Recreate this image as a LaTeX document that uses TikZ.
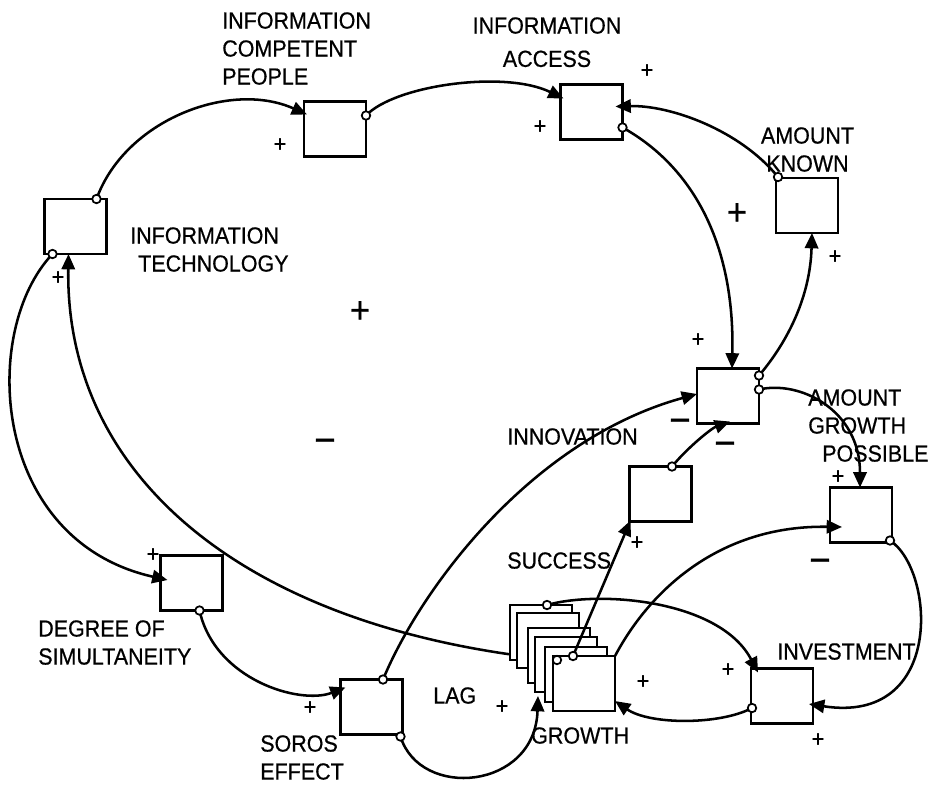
\documentclass[tikz,border=0pt]{standalone}
\usepackage{fontspec}
\setmainfont{Liberation Sans}[FakeStretch=0.92,FakeBold=0.6]
\usetikzlibrary{arrows.meta}
\begin{document}
\begin{tikzpicture}[x=0.75pt,y=-0.75pt,
  gbox/.style={draw,line width=2.2pt,fill=white,minimum width=46.5pt,minimum height=41.25pt,inner sep=0pt,outer sep=0pt},
  link/.style={line width=1.9pt,-{Triangle[length=11.5pt,width=10pt]}},
  portc/.style={line width=1.3pt,fill=white},
  lbl/.style={font=\fontsize{17.5}{21}\selectfont,inner sep=0pt,align=left,anchor=north west},
  sgn/.style={font=\fontsize{17.5}{21}\selectfont,inner sep=0pt},
  bigsgn/.style={font=\fontsize{28}{28}\selectfont,inner sep=0pt},
  msgn/.style={font=\fontsize{30}{30}\selectfont,inner sep=0pt,anchor=base}]
\useasboundingbox (0,0) rectangle (937,786);
\fill[white] (0,0) rectangle (937,786);

% growth stack (first the curve that runs behind it)
\node[gbox,draw=none,fill=none] (ga) at (541,632.5) {};
\coordinate (p10) at ([shift={(47,0)}]ga.south west);
\node[gbox,draw=none,fill=none] (it) at (75.5,226.5) {};
\coordinate (q10) at ([shift={(-7,0)}]it.south);
\draw[link] (p10) .. controls (250,630) and (65,480) .. (q10);

\node[gbox] (ga) at (541,632.5) {};
\node[gbox] (gb) at (548,640.5) {};
\node[gbox] (gc) at (559,655.5) {};
\node[gbox] (gd) at (566,664.5) {};
\node[gbox] (ge) at (576,674.5) {};
\node[gbox] (gf) at (584,683.5) {};

% boxes
\node[gbox] (it) at (75.5,226.5) {};
\node[gbox] (icp) at (335,129) {};
\node[gbox] (ia) at (591.5,112) {};
\node[gbox] (ak) at (807,205.5) {};
\node[gbox] (inn) at (728,396) {};
\node[gbox] (suc) at (660.5,494) {};
\node[gbox] (agp) at (861,515) {};
\node[gbox] (dos) at (191.5,583) {};
\node[gbox] (sor) at (371.5,707) {};
\node[gbox] (inv) at (782,696) {};

% ports
\coordinate (p1) at ([shift={(-10,0)}]it.north east);
\coordinate (q1) at ([shift={(3,13)}]icp.north west);
\coordinate (p2) at ([shift={(0,14)}]icp.north east);
\coordinate (q2) at ([shift={(3,14)}]ia.north west);
\coordinate (p3) at ([shift={(2,-1)}]ak.north west);
\coordinate (q3) at ([shift={(-7,22)}]ia.north east);
\coordinate (p4) at ([shift={(0,43)}]ia.north east);
\coordinate (q4) at ([shift={(4,0)}]inn.north);
\coordinate (p5) at ([shift={(0,7)}]inn.north east);
\coordinate (q5) at ([shift={(5,0)}]ak.south);
\coordinate (p6) at ([shift={(0,21)}]inn.north east);
\coordinate (q6) at ([shift={(-1,0)}]agp.north);
\coordinate (p7) at ([shift={(11.5,0)}]suc.north);
\coordinate (q7) at ([shift={(2,-2)}]inn.south);
\coordinate (p8) at ([shift={(11.5,0)}]sor.north);
\coordinate (q8) at ([shift={(0,-2)}]inn.west);
\coordinate (p9) at ([shift={(-11,0)}]gf.north);
\coordinate (q9) at ([shift={(1,-1)}]suc.south west);
\coordinate (p11) at ([shift={(8,0)}]it.south west);
\coordinate (q11) at ([shift={(7,-3)}]dos.west);
\coordinate (p12) at ([shift={(8,0)}]dos.south);
\coordinate (q12) at ([shift={(5,8)}]sor.north west);
\coordinate (p13) at ([shift={(-2,2)}]sor.south east);
\coordinate (q13) at ([shift={(-15,-15)}]gf.south west);
\coordinate (p14) at ([shift={(37,0)}]ga.north west);
\coordinate (q14) at ([shift={(7,4)}]inv.north west);
\coordinate (p15) at ([shift={(1,12)}]inv.west);
\coordinate (q15) at ([shift={(0,-10)}]gf.south east);
\coordinate (p16) at ([shift={(-2,-2)}]agp.south east);
\coordinate (q16) at ([shift={(-4,8)}]inv.east);
\coordinate (p17) at (gf.north east);
\coordinate (q17) at ([shift={(12,12)}]agp.west);

% connectors
\draw[link] (p1) .. controls (125,120) and (230,80) .. (q1);
\draw[link] (p2) .. controls (395,85) and (505,70) .. (q2);
\draw[link] (p3) .. controls (740,130) and (670,105) .. (q3);
\draw[link] (p4) .. controls (690,165) and (735,240) .. (q4);
\draw[link] (p5) .. controls (785,345) and (810,300) .. (q5);
\draw[link] (p6) .. controls (800,380) and (860,410) .. (q6);
\draw[link] (p7) .. controls (688,447) and (712,428) .. (q7);
\draw[link] (p8) .. controls (420,590) and (530,440) .. (q8);
\draw[link] (p9) -- (q9);
\draw[link] (p11) .. controls (-20,330) and (-10,540) .. (q11);
\draw[link] (p12) .. controls (215,680) and (300,705) .. (q12);
\draw[link] (p13) .. controls (420,800) and (535,790) .. (q13);
\draw[link] (p14) .. controls (600,590) and (720,600) .. (q14);
\draw[link] (p15) .. controls (720,725) and (650,725) .. (q15);
\draw[link] (p16) .. controls (935,570) and (945,725) .. (q16);
\draw[link] (p17) .. controls (650,590) and (720,525) .. (q17);

% source circles
\foreach \p in {p1,p2,p3,p4,p5,p6,p7,p8,p9,p10,p11,p12,p13,p14,p15,p16}
  \draw[portc] (\p) circle[radius=3.2pt];

% labels
\node[lbl] (lICP) at (222,12) {INFORMATION\\COMPETENT\\PEOPLE};
\node[lbl,align=center,anchor=north] (lIA) at (547,17) {INFORMATION\\[4pt]ACCESS};
\node[lbl,align=center,anchor=north] (lAK) at (807.5,127) {AMOUNT\\KNOWN};
\node[lbl] (lIT) at (130,227) {INFORMATION\\\hspace*{6pt}TECHNOLOGY};
\node[lbl] (lINN) at (507,428) {INNOVATION};
\node[lbl] (lAGP) at (808,389) {AMOUNT\\GROWTH\\\hspace*{10.5pt}POSSIBLE};
\node[lbl] (lSUC) at (507,552) {SUCCESS};
\node[lbl] (lDOS) at (38,620) {DEGREE OF\\SIMULTANEITY};
\node[lbl] (lLAG) at (433,687) {LAG};
\node[lbl] (lGR) at (531,727) {GROWTH};
\node[lbl] (lINV) at (777,643) {INVESTMENT};
\node[lbl] (lSOR) at (260,735) {SOROS\\EFFECT};

% polarity signs
\foreach \x/\y [count=\i] in {280/145,540/127,647/71,835/257,698/340,58/278,153/555,310/708,502/707,637/543,838/477,643/682,728/670,818/740}
  \node[sgn] (s\i) at (\x,\y) {+};
\node[bigsgn] (b1) at (737,214) {+};
\node[bigsgn] (b2) at (360,312) {+};
\foreach \x/\y [count=\i] in {325/442,680/422,725/445,820/562}
  \node[msgn] (m\i) at (\x,\y+11.5) {−};
\end{tikzpicture}
\end{document}
